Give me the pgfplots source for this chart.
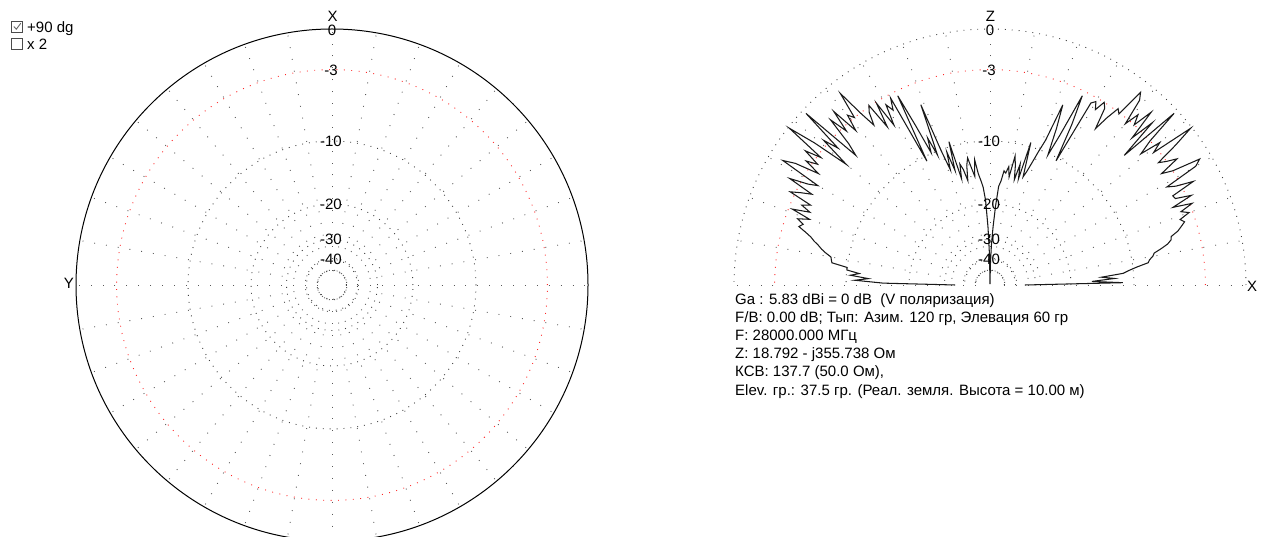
\documentclass[border=0pt]{standalone}
\usepackage{pgfplots}
\pgfplotsset{compat=1.18}
\usepackage{pgfplotstable}
\usepackage{fontspec}
\setmainfont{Liberation Sans}

% elevation pattern: angle (deg), relative gain (dB)
\pgfplotstableread{
ang db
0 -34.6
1 -11.4
2 -16.0
3 -12.5
4 -14.4
5 -11.3
6 -10.5
7 -9.5
8 -8.2
9 -8.0
10 -7.6
11 -7.4
12 -6.6
13 -5.9
14 -5.5
15 -5.4
16 -4.7
17 -4.3
18 -3.9
19 -4.2
20 -3.3
21 -3.9
22 -2.8
23 -4.4
24 -2.6
25 -3.9
26 -4.0
27 -2.0
28 -3.4
29 -4.1
30 -1.3
31 -0.8
32 -3.0
33 -3.9
34 -2.2
35 -3.0
36 -3.6
37 -1.7
38 -0.1
39 -3.4
40 -2.5
41 -4.3
42 -3.0
43 -0.3
44 -5.5
45 -1.9
46 -3.9
47 -1.4
48 -3.0
49 -2.2
50 -3.4
51 -1.3
52 -0.8
53 -3.1
54 -2.8
55 -3.9
56 -5.3
57 -3.4
58 -3.0
59 -3.9
60 -3.3
61 -3.6
62 -10.4
63 -6.1
64 -3.4
65 -7.6
66 -10.2
67 -7.1
68 -4.8
69 -8.7
70 -10.2
71 -11.8
72 -13.2
73 -14.2
74 -9.5
75 -14.7
76 -12.5
77 -15.0
78 -12.9
79 -11.6
80 -14.7
81 -13.2
82 -14.2
83 -13.9
84 -15.6
85 -16.5
86 -20.4
87 -25.8
88 -32.2
89 -44.3
90 -99
91 -37.2
92 -25.8
93 -19.2
94 -16.7
95 -15.5
96 -14.4
97 -12.3
98 -14.7
99 -13.4
100 -11.9
101 -12.9
102 -15.2
103 -13.4
104 -12.5
105 -14.7
106 -9.4
107 -13.2
108 -10.5
109 -12.9
110 -10.1
111 -4.9
112 -10.5
113 -8.2
114 -9.9
115 -6.6
116 -3.4
117 -10.6
118 -3.3
119 -4.3
120 -3.6
121 -5.5
122 -3.1
123 -5.3
124 -2.9
125 -3.4
126 -4.5
127 -3.0
128 -0.9
129 -3.0
130 -2.5
131 -3.9
132 -1.6
133 -3.4
134 -1.9
135 -4.3
136 -5.5
137 -0.3
138 -3.9
139 -2.6
140 -5.4
141 -2.2
142 -0.1
143 -3.3
144 -2.0
145 -3.4
146 -2.5
147 -3.9
148 -1.9
149 -1.0
150 -4.4
151 -3.6
152 -2.1
153 -4.3
154 -3.4
155 -2.6
156 -4.6
157 -3.9
158 -4.8
159 -3.3
160 -5.0
161 -4.0
162 -4.6
163 -4.3
164 -5.0
165 -5.6
166 -6.0
167 -6.5
168 -6.9
169 -7.4
170 -8.0
171 -8.1
172 -8.2
173 -10.0
174 -10.0
175 -11.6
176 -10.5
177 -12.9
178 -11.1
179 -15.2
180 -34.6
}\pat

\begin{document}
\begin{tikzpicture}[x=1pt,y=1pt,
  ring/.style={black!75,line width=0.9pt,dash pattern=on 0.9pt off 6pt},
  redring/.style={red!85,line width=0.9pt,dash pattern=on 0.9pt off 6.5pt},
  spoke/.style={black!65,line width=0.9pt,dash pattern=on 0.9pt off 11pt},
  lab/.style={font=\fontsize{15}{18}\selectfont,inner sep=0pt}]

% ---------- left (azimuth) grid ----------
\begin{scope}[shift={(332,251)}]
  \foreach \a in {0,10,...,350} \draw[spoke] (\a:14.4) -- (\a:256);
  \foreach \r in {143.96,80.95,45.52,25.6,14.4} \draw[ring] (0,0) circle[radius=\r];
  \draw[redring] (0,0) circle[radius=215.4];
  \draw[black,line width=1pt] (0,0) circle[radius=256];
\end{scope}

% ---------- right (elevation) grid ----------
\begin{scope}[shift={(990,251)}]
  \foreach \a in {0,10,...,180} \draw[spoke] (\a:14.4) -- (\a:256);
  \foreach \r in {143.96,80.95,45.52,25.6,14.4} \draw[ring] (\r,0) arc[start angle=0,end angle=180,radius=\r];
  \draw[redring] (215.4,0) arc[start angle=0,end angle=180,radius=215.4];
  \draw[ring] (256,0) arc[start angle=0,end angle=180,radius=256];
\end{scope}

% ---------- pattern ----------
\begin{axis}[at={(0,0)},anchor=south west,width=1266pt,height=536pt,scale only axis,
  xmin=0,xmax=1266,ymin=0,ymax=536,hide axis,clip=false]
\addplot[black!90,line width=1.05pt,mark=none] table[
  x expr={990+256*10^(\thisrow{db}/40)*cos(\thisrow{ang})},
  y expr={251+256*10^(\thisrow{db}/40)*sin(\thisrow{ang})}] {\pat};
\end{axis}

% ---------- scale labels ----------
\foreach \cx/\top in {332/X,990/Z}{
  \node[lab] at (\cx+0.5,519.5) {\top};
  \node[lab] at (\cx,505.5) {0};
  \node[lab] at (\cx-1,466) {-3};
  \node[lab] at (\cx-1,395) {-10};
  \node[lab] at (\cx-1,332) {-20};
  \node[lab] at (\cx-1,296.5) {-30};
  \node[lab] at (\cx-1,276.5) {-40};
}
\node[lab] at (69,252.5) {Y};
\node[lab] at (1252,250) {X};

% ---------- check boxes ----------
\draw[black!70,line width=0.8pt] (11.5,504) rectangle (22.5,515);
\draw[black!60,line width=0.9pt] (13.8,509.5) -- (16.3,506.8) -- (20.8,512.8);
\draw[black!70,line width=0.8pt] (11.5,487) rectangle (22.5,498);
\node[lab,anchor=base west] at (27,503.7) {+90 dg};
\node[lab,anchor=base west] at (27,486) {x 2};

% ---------- info text ----------
\node[lab,anchor=base west] at (735,231) {Ga : 5.83 dBi = 0 dB\ \ (V поляризация)};
\node[lab,anchor=base west] at (735,213.3) {F/B: 0.00 dB; Тып: Азим. 120 гр, Элевация 60 гр};
\node[lab,anchor=base west] at (735,195.5) {F: 28000.000 МГц};
\node[lab,anchor=base west] at (735,177.5) {Z: 18.792 - j355.738 Ом};
\node[lab,anchor=base west] at (735,159.3) {КСВ: 137.7 (50.0 Ом),};
\node[lab,anchor=base west] at (735,141) {Elev. гр.: 37.5 гр. (Реал. земля. Высота = 10.00 м)};

\pgfresetboundingbox
\path[use as bounding box] (0,0) rectangle (1266,536);
\end{tikzpicture}
\end{document}
